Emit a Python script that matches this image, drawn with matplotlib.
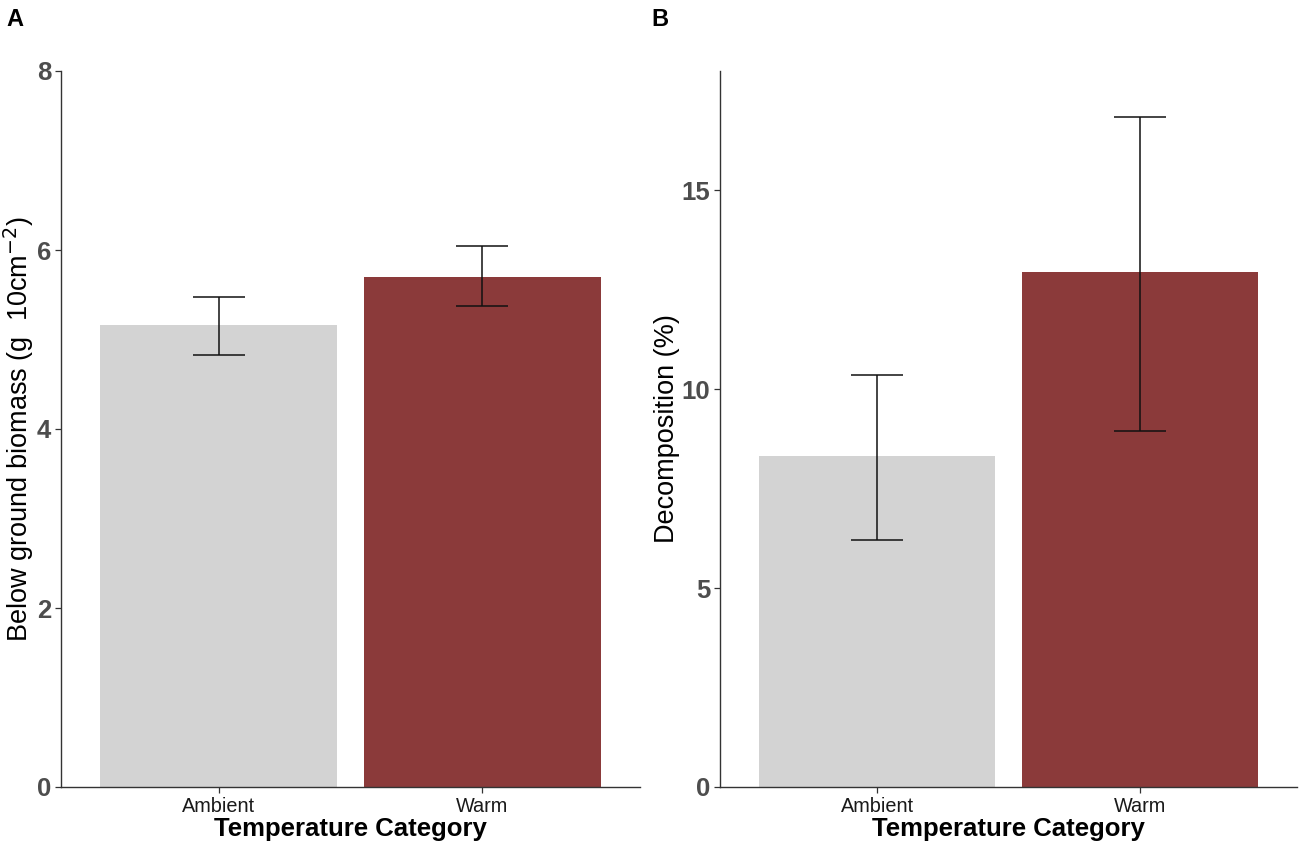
import matplotlib
matplotlib.use("Agg")
import matplotlib.pyplot as plt

categories = ["Ambient", "Warm"]
biomass_mean = [5.16, 5.70]
biomass_low = [4.83, 5.37]
biomass_high = [5.48, 6.04]
decomp_mean = [8.31, 12.94]
decomp_low = [6.22, 8.94]
decomp_high = [10.37, 16.85]
bar_colors = ["#D3D3D3", "#8B3A3A"]

plt.rcParams['font.family'] = ['Liberation Sans', 'DejaVu Sans']

fig = plt.figure(figsize=(12.99, 8.42), dpi=100)
axA = fig.add_axes([61/1299, 55/842, (640-61)/1299, (787-71)/842])
axB = fig.add_axes([720/1299, 55/842, (1297-720)/1299, (787-71)/842])

def panel(ax, means, lows, highs, ylim, yticks, ylabel, letter, lx, ylab_x):
    x = list(range(1, len(categories) + 1))
    ax.bar(x, means, width=0.9, color=bar_colors, zorder=1)
    yerr = [[m - l for m, l in zip(means, lows)], [h - m for m, h in zip(means, highs)]]
    ax.errorbar(x, means, yerr=yerr, fmt='none', ecolor='#111111', elinewidth=1.1,
                capsize=18.7, capthick=1.1, zorder=2)
    ax.set_xlim(0.4, 2.6)
    ax.set_ylim(*ylim)
    ax.set_xticks(x)
    ax.set_xticklabels(categories, fontsize=14.3, color='#1a1a1a')
    ax.set_yticks(yticks)
    ax.set_yticklabels([str(t) for t in yticks], fontsize=18.5, fontweight='bold', color='#4D4D4D')
    for s in ['top', 'right']:
        ax.spines[s].set_visible(False)
    for s in ['left', 'bottom']:
        ax.spines[s].set_color('#333333')
        ax.spines[s].set_linewidth(1.0)
    ax.tick_params(axis='both', length=4, width=0.9, color='#333333', pad=3)
    ax.set_xlabel("Temperature Category", fontsize=18.5, fontweight='bold', labelpad=1)
    ax.set_ylabel(ylabel, fontsize=19.5)
    ax.yaxis.set_label_coords(ylab_x, 0.5)
    fig.text(lx, 1 - 26/842, letter, fontsize=17, fontweight='bold', ha='left', va='baseline')

panel(axA, biomass_mean, biomass_low, biomass_high, (0, 8), [0, 2, 4, 6, 8],
      r"Below ground biomass (g  10cm$^{-2}$)", "A", 6/1299, -0.044)
panel(axB, decomp_mean, decomp_low, decomp_high, (0, 18), [0, 5, 10, 15],
      "Decomposition (%)", "B", 651/1299, -0.069)

fig.savefig("out.png", dpi=100)
